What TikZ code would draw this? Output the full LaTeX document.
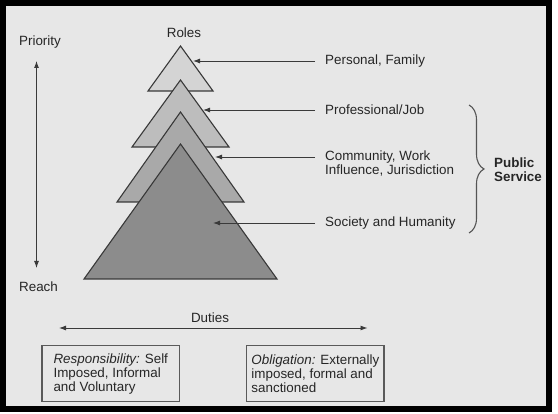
\documentclass[tikz,border=0pt]{standalone}
\usepackage{fontspec}
\setmainfont{Liberation Sans}
\usetikzlibrary{arrows.meta,decorations.pathreplacing}
\definecolor{bg}{HTML}{E7E7E7}
\definecolor{txt}{HTML}{262626}
\definecolor{arrline}{HTML}{3A3A3A}
\definecolor{triline}{HTML}{383838}
\definecolor{boxline}{HTML}{5A5A5A}
\definecolor{bracec}{HTML}{555555}
\definecolor{tone}{HTML}{D4D4D4}
\definecolor{ttwo}{HTML}{BDBDBD}
\definecolor{tthree}{HTML}{A9A9A9}
\definecolor{tfour}{HTML}{8C8C8C}
\tikzset{
  lbl/.style={inner sep=0pt, text=txt, font=\fontsize{13.4}{14}\selectfont, align=left},
  tri/.style={draw=triline, line width=1.1pt, line join=miter},
  arr/.style={draw=arrline, line width=0.9pt, -{Latex[length=7pt,width=5pt]}},
  darr/.style={draw=arrline, line width=0.9pt, {Latex[length=7pt,width=5pt]}-{Latex[length=7pt,width=5pt]}},
  dutybox/.style={lbl, draw=boxline, line width=1.3pt, minimum width=137.5pt, minimum height=56pt}
}
\begin{document}
\begin{tikzpicture}[x=1pt,y=-1pt]
\useasboundingbox (0,0) rectangle (558,414);
\fill[white] (0,0) rectangle (558,414);
\fill[black] (0,0) rectangle (552,412);
\fill[bg] (6,6.5) rectangle (545.5,406.5);

% pyramid of roles
\filldraw[tri, fill=tone]   (180.5,46)  -- (213,91)  -- (148,91)  -- cycle;
\filldraw[tri, fill=ttwo]   (180.5,80)  -- (229,147) -- (132,147) -- cycle;
\filldraw[tri, fill=tthree] (180.5,112) -- (244,202) -- (117,202) -- cycle;
\filldraw[tri, fill=tfour]  (180.5,144) -- (277,279) -- (84,279)  -- cycle;

% labels
\node[lbl] (roles) at (184,33) {Roles};
\node[lbl] (priority) at (40,42) {Priority};
\node[lbl] (reach) at (38.5,287) {Reach};
\node[lbl] (duties) at (210,318) {Duties};

\node[lbl, anchor=west] (personal) at (325,61) {Personal, Family};
\node[lbl, anchor=west] (prof) at (325,110) {Professional/Job};
\node[lbl, anchor=west] (comm) at (325,164) {Community, Work\\Influence, Jurisdiction};
\node[lbl, anchor=west] (soc) at (325,223) {Society and Humanity};
\node[lbl, anchor=west, font=\fontsize{13.4}{14}\selectfont\bfseries] (pub) at (494,169.5) {Public\\Service};

% arrow end points
\coordinate (p1s) at (315,61);  \coordinate (p1e) at (193,61);
\coordinate (p2s) at (315,110); \coordinate (p2e) at (203,110);
\coordinate (p3s) at (315,157); \coordinate (p3e) at (215,157);
\coordinate (p4s) at (315,223); \coordinate (p4e) at (213,223);
\draw[arr] (p1s) -- (p1e);
\draw[arr] (p2s) -- (p2e);
\draw[arr] (p3s) -- (p3e);
\draw[arr] (p4s) -- (p4e);

% priority / reach axis
\coordinate (vtop) at (36.5,61);
\coordinate (vbot) at (36.5,268);
\draw[darr] (vtop) -- (vbot);

% duties axis
\coordinate (hl) at (59,328);
\coordinate (hr) at (367.5,328);
\draw[darr] (hl) -- (hr);

% brace
\draw[bracec, line width=1.1pt, decorate, decoration={brace, amplitude=15pt}] (469,105) -- (469,233);

% boxes
\node[dutybox] (resp) at (110.75,373.7) {\textit{Responsibility:} Self\\Imposed, Informal\\and Voluntary};
\node[dutybox, minimum width=137.2pt] (oblig) at (315.4,373.7) {\textit{Obligation:} Externally\\imposed, formal and\\sanctioned};
\end{tikzpicture}
\end{document}
